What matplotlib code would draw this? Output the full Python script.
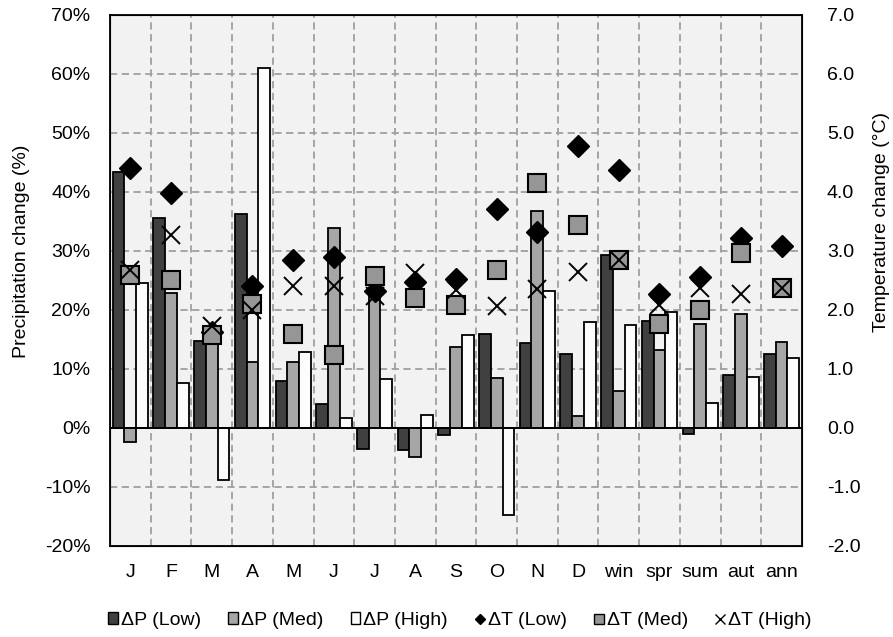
import matplotlib.pyplot as plt
from matplotlib.ticker import FuncFormatter, MultipleLocator
from matplotlib.lines import Line2D
from matplotlib.patches import Patch
import numpy as np

plt.rcParams['font.family'] = ['Liberation Sans', 'DejaVu Sans']

categories = ["J", "F", "M", "A", "M", "J", "J", "A", "S", "O", "N", "D",
              "win", "spr", "sum", "aut", "ann"]

# precipitation change (%)
p_low = [43.4, 35.6, 14.7, 36.3, 7.9, 4.1, -3.5, -3.8, -1.2, 15.9, 14.4, 12.5,
         29.4, 18.2, -1.1, 9.0, 12.5]
p_med = [-2.4, 22.8, 15.5, 11.1, 11.2, 33.9, 23.0, -4.9, 13.8, 8.4, 36.8, 2.1,
         6.2, 13.3, 17.7, 19.3, 14.6]
p_high = [24.6, 7.7, -8.9, 61.0, 12.9, 1.75, 8.3, 2.2, 15.8, -14.7, 23.2, 17.9,
          17.5, 19.7, 4.2, 8.7, 11.8]

# temperature change (degC)
t_low = [4.41, 3.98, 1.62, 2.40, 2.85, 2.90, 2.33, 2.48, 2.53, 3.71, 3.32, 4.78,
         4.38, 2.27, 2.56, 3.22, 3.09]
t_med = [2.59, 2.50, 1.58, 2.10, 1.60, 1.23, 2.58, 2.20, 2.08, 2.68, 4.15, 3.44,
         2.85, 1.76, 2.00, 2.96, 2.38]
t_high = [2.67, 3.27, 1.72, 2.00, 2.41, 2.40, 2.24, 2.63, 2.34, 2.06, 2.35, 2.65,
          2.85, 2.08, 2.37, 2.27, 2.38]

fs = 14

fig = plt.figure(figsize=(8.93, 6.37), dpi=100)
ax = fig.add_axes([0.1232, 0.1429, 0.7748, 0.8336])
ax.set_facecolor("#f2f2f2")

x = np.arange(len(categories))
w = 0.289
ax.bar(x - w, p_low, w, color="#404040", edgecolor="black", linewidth=1.3, zorder=3)
ax.bar(x, p_med, w, color="#a6a6a6", edgecolor="black", linewidth=1.3, zorder=3)
ax.bar(x + w, p_high, w, color="#fcfcfc", edgecolor="black", linewidth=1.3, zorder=3)
ax.axhline(0, color="black", linewidth=1.4, zorder=4)

ax.set_xlim(-0.5, len(categories) - 0.5)
ax.set_ylim(-20, 70)
ax.yaxis.set_major_locator(MultipleLocator(10))
ax.yaxis.set_major_formatter(FuncFormatter(lambda v, p: "%d%%" % round(v)))
ax.set_xticks(x)
ax.set_xticklabels(categories)
ax.set_xticks(x[:-1] + 0.5, minor=True)
ax.grid(True, axis="y", which="major", color="#a0a0a0", linestyle=(0, (4, 2.5)), linewidth=1.3, zorder=1)
ax.grid(True, axis="x", which="minor", color="#a0a0a0", linestyle=(0, (4, 2.5)), linewidth=1.3, zorder=1)
ax.tick_params(axis="both", which="both", length=0, labelsize=fs)
ax.tick_params(axis="x", pad=13)
ax.tick_params(axis="y", pad=14)
ax.set_ylabel("Precipitation change (%)", fontsize=fs)
ax.yaxis.set_label_coords(-0.116, 0.554)
for s in ax.spines.values():
    s.set_linewidth(1.3)

ax2 = ax.twinx()
ax2.set_ylim(-2, 7)
ax2.yaxis.set_major_locator(MultipleLocator(1))
ax2.yaxis.set_major_formatter(FuncFormatter(lambda v, p: "%.1f" % v))
ax2.tick_params(axis="y", length=0, labelsize=fs, pad=18)
ax2.plot(x, t_low, linestyle="none", marker="D", markersize=11.5,
         color="black", zorder=5)
ax2.plot(x, t_med, linestyle="none", marker="s", markersize=13.5,
         markerfacecolor="#969696", markeredgecolor="black", markeredgewidth=1.5, zorder=6)
ax2.plot(x, t_high, linestyle="none", marker="x", markersize=13.5,
         color="black", markeredgewidth=1.4, zorder=7)
ax2.set_ylabel("Temperature change (°C)", fontsize=fs, rotation=90)
ax2.yaxis.set_label_coords(1.103, 0.61)

handles = [
    Patch(facecolor="#404040", edgecolor="black", linewidth=1),
    Patch(facecolor="#a6a6a6", edgecolor="black", linewidth=1),
    Patch(facecolor="#fcfcfc", edgecolor="black", linewidth=1),
    Line2D([], [], linestyle="none", marker="D", markersize=5, color="black"),
    Line2D([], [], linestyle="none", marker="s", markersize=7,
           markerfacecolor="#969696", markeredgecolor="black"),
    Line2D([], [], linestyle="none", marker="x", markersize=7, color="black"),
]
labels = ["ΔP (Low)", "ΔP (Med)", "ΔP (High)", "ΔT (Low)", "ΔT (Med)", "ΔT (High)"]
fig.legend(handles, labels, loc="center", bbox_to_anchor=(0.515, 0.026), ncol=6,
           frameon=False, fontsize=fs, handlelength=0.5, handleheight=0.5,
           handletextpad=0.15, columnspacing=1.4, borderpad=0)

fig.savefig("out.png", dpi=100)
